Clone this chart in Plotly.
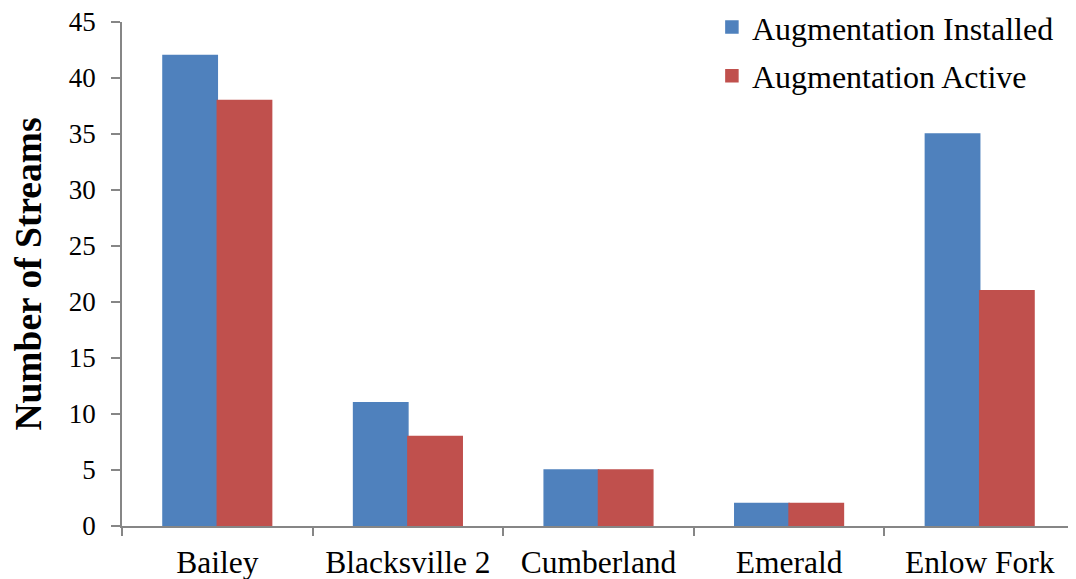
import plotly.graph_objects as go

categories = ["Bailey", "Blacksville 2", "Cumberland", "Emerald", "Enlow Fork"]
installed = [42, 11, 5, 2, 35]
active = [38, 8, 5, 2, 21]
y_ticks = [0, 5, 10, 15, 20, 25, 30, 35, 40, 45]

FONT = "Liberation Serif, Times New Roman, serif"
AXIS_COLOR = "#868686"
BLUE = "#4F81BD"
RED = "#C0504D"

fig = go.Figure()
fig.add_trace(go.Bar(name="Augmentation Installed", x=categories, y=installed,
                     legendgroup="a",
                     marker=dict(color=BLUE, line=dict(width=1.5, color=BLUE))))
fig.add_trace(go.Bar(name="Augmentation Active", x=categories, y=active,
                     legendgroup="b",
                     marker=dict(color=RED, line=dict(width=1.5, color=RED))))

fig.update_layout(
    width=1076, height=579,
    margin=dict(l=114, r=9, t=14, b=61, autoexpand=False),
    paper_bgcolor="white", plot_bgcolor="white",
    barmode="group", bargap=0.43, bargroupgap=0,
    font=dict(family=FONT, color="black"),
    showlegend=True,
    legend=dict(x=0.619, y=1.044, xanchor="left", yanchor="top",
                traceorder="grouped", tracegroupgap=4,
                font=dict(family=FONT, size=32, color="black"),
                bgcolor="rgba(0,0,0,0)", itemwidth=30),
)
fig.update_xaxes(
    automargin=False,
    showline=True, linecolor=AXIS_COLOR, linewidth=1.5,
    ticks="outside", tickson="boundaries", ticklen=8, tickcolor=AXIS_COLOR, tickwidth=1.5,
    tickfont=dict(family=FONT, size=31.5, color="black"), ticklabelstandoff=7,
    ticklabeloverflow="allow",
    showgrid=False, range=[-0.5, 4.5],
)
fig.update_yaxes(
    automargin=False,
    range=[0, 45], tickvals=y_ticks,
    showline=True, linecolor=AXIS_COLOR, linewidth=1.5,
    ticks="outside", ticklen=9, tickcolor=AXIS_COLOR, tickwidth=1.5,
    tickfont=dict(family=FONT, size=27, color="black"), ticklabelstandoff=10,
    ticklabeloverflow="allow",
    showgrid=False, zeroline=False,
    title=dict(text="<b>Number of Streams</b>", font=dict(family=FONT, size=37.5, color="black"), standoff=25),
)

fig.write_html("out.html")
